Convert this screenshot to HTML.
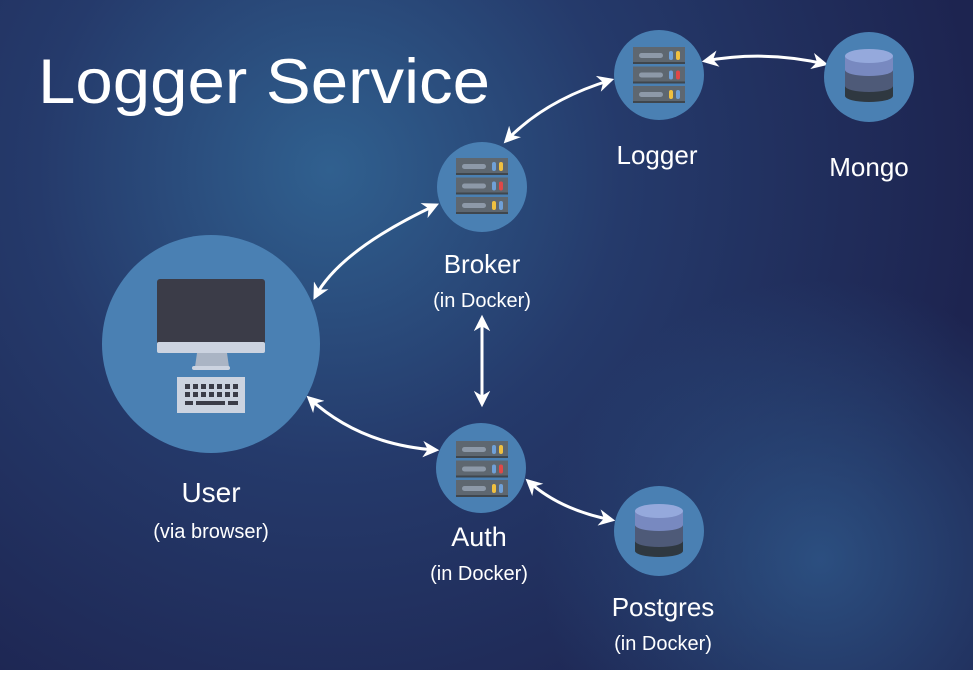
<!DOCTYPE html>
<html><head><style>
html,body{margin:0;padding:0;}
body{width:973px;height:670px;overflow:hidden;font-family:"Liberation Sans",sans-serif;}
</style></head><body>
<svg width="973" height="670" viewBox="0 0 973 670" xmlns="http://www.w3.org/2000/svg">
<defs>
<radialGradient id="bg" cx="330" cy="170" r="650" gradientUnits="userSpaceOnUse">
<stop offset="0" stop-color="#30608f"/><stop offset="0.45" stop-color="#253a6b"/><stop offset="1" stop-color="#1d2450"/>
</radialGradient>
<radialGradient id="bg2" cx="820" cy="560" r="280" gradientUnits="userSpaceOnUse">
<stop offset="0" stop-color="#2e5688" stop-opacity="0.85"/><stop offset="1" stop-color="#2e5688" stop-opacity="0"/>
</radialGradient>
<marker id="ah" viewBox="0 0 10 10" refX="8" refY="5" markerWidth="5.5" markerHeight="5.5" orient="auto-start-reverse">
<path d="M0,0 L10,5 L0,10 L3,5 z" fill="#fff"/>
</marker>
<g id="srv">
<rect x="0" y="0" width="52" height="17" fill="#5e6770"/><rect x="0" y="15" width="52" height="2" fill="#3f464d"/><rect x="6" y="6" width="24" height="5" rx="2.5" fill="#8d99a8"/><rect x="36" y="4" width="4" height="9" rx="2" fill="#6fa0d8"/><rect x="43" y="4" width="4" height="9" rx="2" fill="#f0c040"/>
<rect x="0" y="19.5" width="52" height="17" fill="#5e6770"/><rect x="0" y="34.5" width="52" height="2" fill="#3f464d"/><rect x="6" y="25.5" width="24" height="5" rx="2.5" fill="#8d99a8"/><rect x="36" y="23.5" width="4" height="9" rx="2" fill="#6fa0d8"/><rect x="43" y="23.5" width="4" height="9" rx="2" fill="#e04848"/>
<rect x="0" y="39" width="52" height="17" fill="#5e6770"/><rect x="0" y="54" width="52" height="2" fill="#3f464d"/><rect x="6" y="45" width="24" height="5" rx="2.5" fill="#8d99a8"/><rect x="36" y="43" width="4" height="9" rx="2" fill="#f0c040"/><rect x="43" y="43" width="4" height="9" rx="2" fill="#6fa0d8"/>
</g>
<g id="db">
<path d="M0,38 L0,48 A24,6 0 0 0 48,48 L48,38 z" fill="#2f3840"/>
<path d="M0,22 L0,38 A24,6 0 0 0 48,38 L48,22 z" fill="#4e5a78"/>
<path d="M0,8 L0,22 A24,6 0 0 0 48,22 L48,8 z" fill="#7889c0"/>
<ellipse cx="24" cy="8" rx="24" ry="7" fill="#95a9dc"/>
</g>
</defs>
<rect width="973" height="670" fill="url(#bg)"/>
<rect width="973" height="670" fill="url(#bg2)"/>

<text x="38" y="103" font-size="63" fill="#fff" textLength="452" lengthAdjust="spacingAndGlyphs">Logger Service</text>

<!-- arrows -->
<g fill="none" stroke="#fff" stroke-width="3" marker-start="url(#ah)" marker-end="url(#ah)">
<path d="M611,80 Q545,100 506,141"/>
<path d="M705,61 Q765,50 825,64"/>
<path d="M436,205 Q340,250 315,297"/>
<path d="M482,318 L482,404"/>
<path d="M309,398 Q360,445 436,450"/>
<path d="M528,481 Q560,510 612,520"/>
</g>

<!-- nodes -->
<circle cx="211" cy="344" r="109" fill="#4a80b3"/>
<circle cx="482" cy="187" r="45" fill="#4a80b3"/>
<circle cx="659" cy="75" r="45" fill="#4a80b3"/>
<circle cx="869" cy="77" r="45" fill="#4a80b3"/>
<circle cx="481" cy="468" r="45" fill="#4a80b3"/>
<circle cx="659" cy="531" r="45" fill="#4a80b3"/>

<use href="#srv" x="456" y="158"/>
<use href="#srv" x="633" y="47"/>
<use href="#srv" x="456" y="441"/>
<use href="#db" x="845" y="48"/>
<use href="#db" x="635" y="503"/>

<!-- computer -->
<rect x="157" y="279" width="108" height="66" rx="3" fill="#3b3c48"/>
<rect x="157" y="342" width="108" height="11" rx="2" fill="#ccd3e0"/>
<path d="M197,353 L227,353 L229,367 L195,367 z" fill="#aab4c4"/>
<rect x="192" y="366" width="38" height="4" rx="2" fill="#ccd3e0"/>
<rect x="177" y="377" width="68" height="36" fill="#ccd3e0"/>
<g fill="#3b3c48">
<rect x="185" y="384" width="5" height="5"/><rect x="193" y="384" width="5" height="5"/><rect x="201" y="384" width="5" height="5"/><rect x="209" y="384" width="5" height="5"/><rect x="217" y="384" width="5" height="5"/><rect x="225" y="384" width="5" height="5"/><rect x="233" y="384" width="5" height="5"/>
<rect x="185" y="392" width="5" height="5"/><rect x="193" y="392" width="5" height="5"/><rect x="201" y="392" width="5" height="5"/><rect x="209" y="392" width="5" height="5"/><rect x="217" y="392" width="5" height="5"/><rect x="225" y="392" width="5" height="5"/><rect x="233" y="392" width="5" height="5"/>
<rect x="185" y="401" width="8" height="4"/><rect x="196" y="401" width="29" height="4"/><rect x="228" y="401" width="10" height="4"/>
</g>

<!-- labels -->
<g fill="#fff" text-anchor="middle">
<text x="211" y="502" font-size="28">User</text>
<text x="211" y="538" font-size="20">(via browser)</text>
<text x="482" y="273" font-size="26">Broker</text>
<text x="482" y="307" font-size="20">(in Docker)</text>
<text x="657" y="164" font-size="26">Logger</text>
<text x="869" y="176" font-size="26">Mongo</text>
<text x="479" y="546" font-size="27">Auth</text>
<text x="479" y="580" font-size="20">(in Docker)</text>
<text x="663" y="616" font-size="26">Postgres</text>
<text x="663" y="650" font-size="20">(in Docker)</text>
</g>
</svg>
</body></html>
